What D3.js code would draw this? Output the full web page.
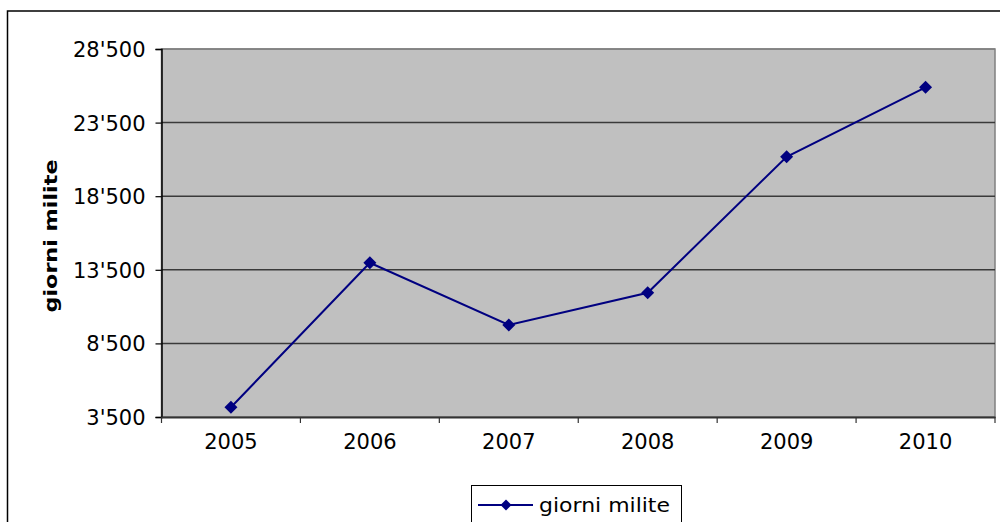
<!DOCTYPE html>
<html>
<head>
<meta charset="utf-8">
<script src="https://cdn.jsdelivr.net/npm/d3@7"></script>
<style>
html,body{margin:0;padding:0;background:#fff;}
svg{display:block;font-family:"DejaVu Sans",Verdana,sans-serif;}
</style>
</head>
<body>
<svg id="chart" width="1000" height="522"></svg>
<script>
const categories = ["2005","2006","2007","2008","2009","2010"];
const giorniMilite = [4160, 13980, 9750, 11940, 21180, 25900];
const yTicks = [3500, 8500, 13500, 18500, 23500, 28500];
const seriesName = "giorni milite";
const yTitle = "giorni milite";

const svg = d3.select("#chart");
const plot = {left:161.5, top:49, right:995, bottom:417};

// outer chart border
svg.append("rect").attr("x",7.5).attr("y",11).attr("width",1100).attr("height",700)
  .attr("fill","#fff").attr("stroke","#000").attr("stroke-width",1.5);

const x = d3.scaleBand().domain(categories).range([plot.left, plot.right]).padding(0);
const y = d3.scaleLinear().domain([3500, 28500]).range([plot.bottom, plot.top]);

// plot area
svg.append("rect").attr("x",plot.left).attr("y",plot.top)
  .attr("width",plot.right-plot.left).attr("height",plot.bottom-plot.top)
  .attr("fill","#c0c0c0").attr("stroke","#808080").attr("stroke-width",1.5);

// gridlines
svg.append("g").selectAll("line").data(yTicks.slice(1)).join("line")
  .attr("x1",plot.left).attr("x2",plot.right)
  .attr("y1",d=>y(d)).attr("y2",d=>y(d))
  .attr("stroke",d=>d===28500?"#808080":"#3a3a3a").attr("stroke-width",1.5);

// y axis
const yAxis = d3.axisLeft(y).tickValues(yTicks).tickSize(6).tickPadding(10)
  .tickFormat(d=>d3.format(",")(d).replace(/,/g,"'"));
const gy = svg.append("g").attr("transform",`translate(${plot.left},0)`).call(yAxis);
gy.select(".domain").attr("stroke","#000").attr("stroke-width",1.5);
gy.selectAll(".tick line").attr("stroke","#000").attr("stroke-width",1.2);
gy.selectAll(".tick text").attr("font-size",21).attr("fill","#000")
  .attr("font-family","DejaVu Sans, Verdana, sans-serif").attr("dy","0.36em");

// x axis
const xAxis = d3.axisBottom(x).tickSize(0).tickPadding(28);
const gx = svg.append("g").attr("transform",`translate(0,${plot.bottom})`).call(xAxis);
gx.select(".domain").attr("stroke","#333").attr("stroke-width",2);
gx.selectAll(".tick text").attr("font-size",21).attr("fill","#000")
  .attr("font-family","DejaVu Sans, Verdana, sans-serif").attr("dy","0.2em");
// category boundary tick marks
const bounds = categories.map(c=>x(c)).concat([x(categories[categories.length-1])+x.bandwidth()]);
svg.append("g").selectAll("line").data(bounds).join("line")
  .attr("x1",d=>d).attr("x2",d=>d).attr("y1",plot.bottom).attr("y2",plot.bottom+6)
  .attr("stroke","#333").attr("stroke-width",1.2);

// series line
const cx = c => x(c) + x.bandwidth()/2;
const data = categories.map((c,i)=>({c, v:giorniMilite[i]}));
svg.append("path").datum(data)
  .attr("d", d3.line().x(d=>cx(d.c)).y(d=>y(d.v)))
  .attr("fill","none").attr("stroke","#000080").attr("stroke-width",2);

const diamond = (r)=>`M0,${-r}L${r},0L0,${r}L${-r},0Z`;
svg.append("g").selectAll("path").data(data).join("path")
  .attr("transform",d=>`translate(${cx(d.c)},${y(d.v)})`)
  .attr("d",diamond(6.5)).attr("fill","#000080");

// y title
svg.append("text")
  .attr("transform","translate(57,236) rotate(-90)")
  .attr("text-anchor","middle")
  .attr("font-size",17).attr("font-weight","bold")
  .attr("textLength",153).attr("lengthAdjust","spacingAndGlyphs")
  .text(yTitle);

// legend
const lg = svg.append("g");
lg.append("rect").attr("x",471.5).attr("y",485.5).attr("width",210).attr("height",60)
  .attr("fill","#fff").attr("stroke","#000").attr("stroke-width",1);
lg.append("line").attr("x1",478).attr("x2",533).attr("y1",505).attr("y2",505)
  .attr("stroke","#000080").attr("stroke-width",2);
lg.append("path").attr("transform","translate(506,505)").attr("d",diamond(5.5)).attr("fill","#000080");
lg.append("text").attr("x",539).attr("y",512).attr("font-size",19)
  .attr("textLength",131).attr("lengthAdjust","spacingAndGlyphs")
  .text(seriesName);
</script>
</body>
</html>
